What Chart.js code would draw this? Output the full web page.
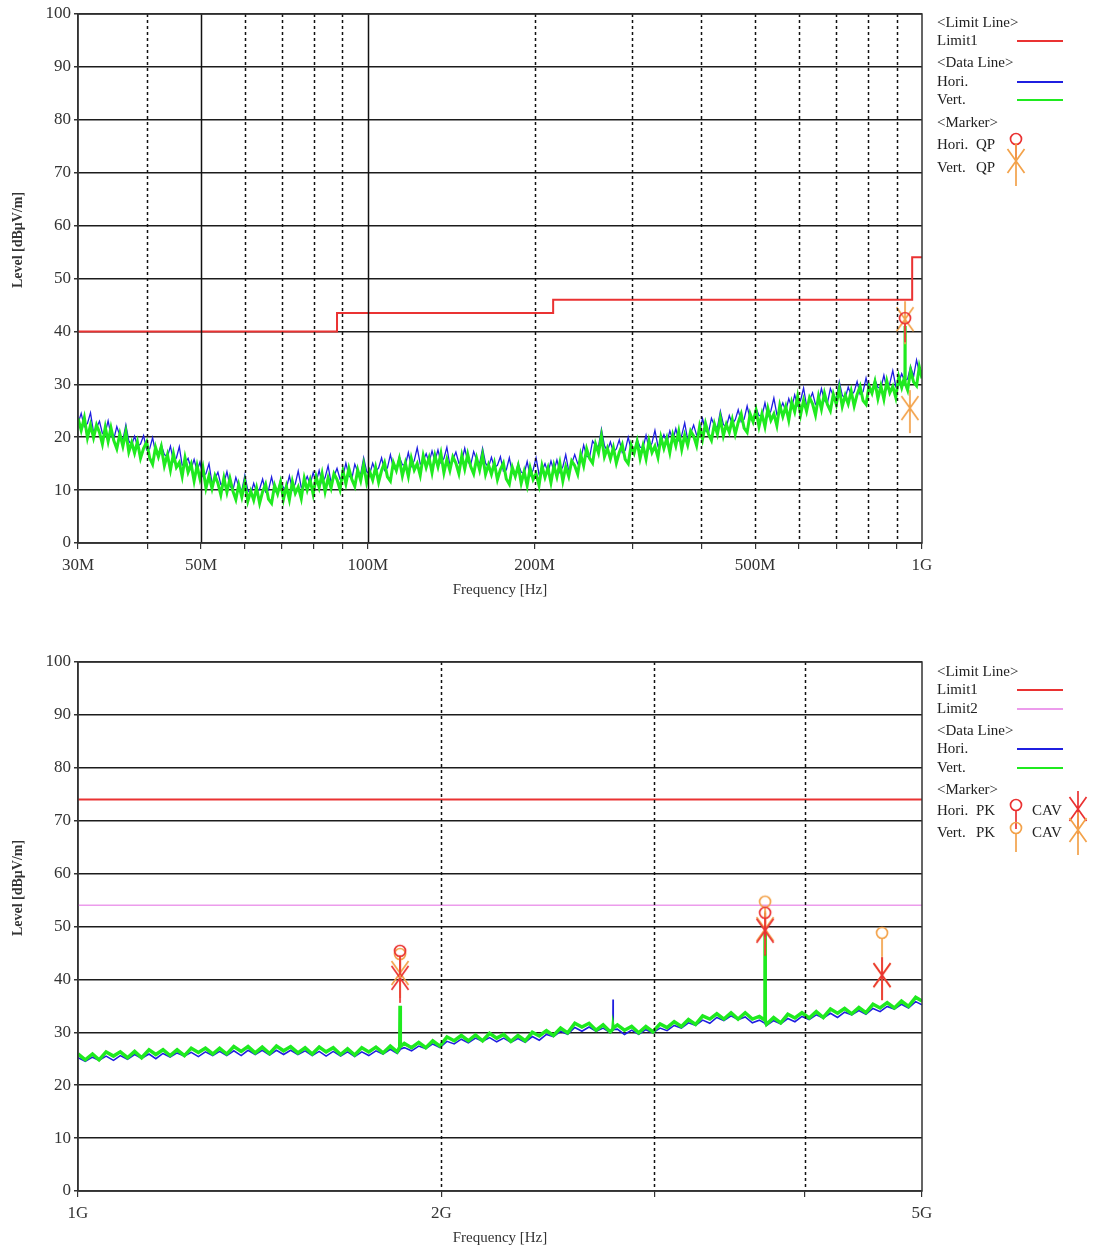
<!DOCTYPE html>
<html>
<head>
<meta charset="utf-8">
<script src="https://cdn.jsdelivr.net/npm/chart.js@4.4.1/dist/chart.umd.min.js"></script>
<style>
  html, body { margin: 0; padding: 0; background: #fff; }
  #wrap { position: relative; width: 1093px; height: 1249px; }
  .box { position: absolute; left: 0; width: 1093px; height: 601px; }
  .box canvas { display: block; }
  #boxLow { top: 0; }
  #boxHigh { top: 648px; }
</style>
</head>
<body>
<div id="wrap">
  <div class="box" id="boxLow"><canvas id="low" width="1093" height="601" style="width:1093px;height:601px"></canvas></div>
  <div class="box" id="boxHigh"><canvas id="high" width="1093" height="601" style="width:1093px;height:601px"></canvas></div>
</div>
<script>
// ---- 30 MHz - 1 GHz scan (frequency in MHz, level in dBuV/m) ----
var lowFreq = [
  30, 30.4, 30.8, 31.2, 31.6, 32, 32.4, 32.8, 33.2, 33.6, 34, 34.4, 34.8, 35.25, 35.7, 36.15, 36.6, 37.05, 37.5, 37.95,
  38.4, 38.9, 39.4, 39.9, 40.4, 40.9, 41.4, 41.9, 42.4, 42.95, 43.5, 44.05, 44.6, 45.15, 45.7, 46.25, 46.8, 47.4, 48, 48.6,
  49.2, 49.8, 50.4, 51.05, 51.7, 52.35, 53, 53.65, 54.3, 55, 55.7, 56.4, 57.1, 57.8, 58.5, 59.25, 60, 60.75, 61.5, 62.25,
  63, 63.8, 64.6, 65.4, 66.2, 67.05, 67.9, 68.75, 69.6, 70.45, 71.3, 72.2, 73.1, 74, 74.9, 75.85, 76.8, 77.75, 78.7, 79.7,
  80.7, 81.7, 82.7, 83.75, 84.8, 85.85, 86.9, 88, 89.1, 90.2, 91.3, 92.45, 93.6, 94.75, 95.9, 97.1, 98.3, 99.55, 100.8, 102.05,
  103.3, 104.6, 105.9, 107.2, 108.5, 109.85, 111.2, 112.6, 114, 115.45, 116.9, 118.35, 119.8, 121.3, 122.8, 124.35, 125.9, 127.45, 129, 130.6,
  132.2, 133.85, 135.5, 137.2, 138.9, 140.65, 142.4, 144.2, 146, 147.8, 149.6, 151.45, 153.3, 155.25, 157.2, 159.15, 161.1, 163.1, 165.1, 167.15,
  169.2, 171.35, 173.5, 175.65, 177.8, 180.05, 182.3, 184.55, 186.8, 189.15, 191.5, 193.9, 196.3, 198.75, 201.2, 203.7, 206.2, 208.8, 211.4, 214.05,
  216.7, 219.4, 222.1, 224.85, 227.6, 230.45, 233.3, 236.25, 239.2, 242.2, 245.2, 248.25, 251.3, 254.45, 257.6, 260.8, 264, 267.3, 270.6, 274,
  277.4, 280.85, 284.3, 287.85, 291.4, 295.05, 298.7, 302.45, 306.2, 310, 313.8, 317.75, 321.7, 325.7, 329.7, 333.85, 338, 342.2, 346.4, 350.75,
  355.1, 359.55, 364, 368.55, 373.1, 377.75, 382.4, 387.2, 392, 396.9, 401.8, 406.8, 411.8, 416.95, 422.1, 427.4, 432.7, 438.1, 443.5, 449.05,
  454.6, 460.3, 466, 471.8, 477.6, 483.6, 489.6, 495.7, 501.8, 508.05, 514.3, 520.75, 527.2, 533.8, 540.4, 547.15, 553.9, 560.85, 567.8, 574.9,
  582, 589.25, 596.5, 603.95, 611.4, 619.05, 626.7, 634.55, 642.4, 650.45, 658.5, 666.75, 675, 683.4, 691.8, 700.45, 709.1, 718, 726.9, 736,
  745.1, 754.4, 763.7, 773.25, 782.8, 792.6, 802.4, 812.4, 822.4, 832.7, 843, 853.55, 864.1, 874.9, 885.7, 896.75, 907.8, 919.15, 930.5,
  931.5, 932, 932.5,
  942, 953.8, 965.7, 977.6, 988.8, 1000
];
var lowVert = [
  23.6, 21.3, 23.7, 19.9, 22.3, 19.9, 22.3, 20.9, 18.7, 21.9, 19.2, 21.8, 19.4, 17.8, 20.6, 18.3, 21.0, 17.2, 19.0, 17.0,
  19.1, 16.0, 17.9, 19.1, 16.1, 14.9, 18.1, 16.3, 18.2, 14.6, 16.7, 13.8, 16.9, 14.3, 15.2, 12.6, 16.1, 13.4, 14.9, 11.7,
  14.6, 12.1, 14.3, 10.4, 12.7, 10.3, 12.7, 11.3, 9.1, 12.3, 9.6, 12.2, 9.8, 8.2, 11.0, 8.7, 11.5, 7.9, 9.8, 8.1,
  10.4, 7.5, 9.7, 11.1, 8.3, 7.5, 10.9, 9.3, 11.5, 8.3, 10.7, 8.2, 11.6, 9.4, 10.6, 8.4, 12.2, 10.0, 11.9, 9.2,
  12.5, 10.5, 13.1, 9.7, 12.3, 10.4, 13.1, 12.0, 10.1, 13.6, 11.2, 14.1, 12.0, 10.7, 13.8, 11.8, 14.8, 11.4, 13.5, 11.9,
  14.3, 11.5, 13.7, 15.2, 12.5, 11.7, 15.2, 13.7, 15.9, 12.7, 15.1, 12.6, 16.0, 13.8, 15.0, 12.8, 16.5, 14.3, 16.1, 13.3,
  16.5, 14.4, 16.9, 13.3, 15.8, 13.7, 16.3, 15.1, 13.1, 16.5, 14.0, 16.8, 14.5, 13.1, 16.0, 13.8, 16.6, 13.0, 14.8, 13.0,
  15.1, 12.0, 13.9, 15.1, 12.1, 11.1, 14.3, 12.6, 14.6, 11.3, 13.5, 10.9, 14.2, 12.0, 13.1, 10.9, 14.6, 12.4, 14.2, 11.4,
  14.6, 12.5, 15.1, 11.7, 14.4, 12.6, 15.5, 14.6, 13.0, 16.7, 14.6, 17.8, 16.0, 15.1, 18.7, 17.0, 20.2, 16.3, 17.9, 15.9,
  18.0, 15.1, 17.1, 18.6, 15.8, 15.0, 18.5, 17.0, 19.2, 16.0, 18.4, 15.9, 19.3, 17.1, 18.3, 16.2, 20.0, 17.9, 19.8, 17.1,
  20.4, 18.4, 21.1, 17.7, 20.4, 18.5, 21.2, 20.2, 18.4, 22.0, 19.6, 22.6, 20.6, 19.4, 22.5, 20.6, 23.6, 20.3, 22.4, 20.9,
  23.3, 20.6, 22.8, 24.4, 21.7, 20.9, 24.4, 22.9, 25.1, 22.0, 24.4, 22.0, 25.4, 23.2, 24.4, 22.2, 26.0, 23.9, 25.8, 23.2,
  26.6, 24.8, 27.7, 24.3, 27.0, 24.9, 27.5, 26.3, 24.2, 27.7, 25.3, 28.3, 26.2, 25.0, 28.1, 26.2, 29.2, 25.8, 27.9, 26.3,
  28.7, 25.9, 28.1, 29.6, 26.9, 26.2, 29.7, 28.3, 30.5, 27.3, 29.7, 27.2, 30.6, 28.4, 29.6, 27.5, 31.4, 29.4, 31.5,
  30.0, 41.0, 30.2,
  28.9, 32.6, 30.4, 29.7, 33.3, 31.1
];
var lowHori = [
  22.6, 24.5, 22.0, 22.6, 24.6, 20.9, 21.8, 23.0, 20.7, 20.9, 23.1, 20.4, 19.6, 22.0, 20.3, 19.5, 22.3, 19.3, 18.5, 20.2,
  18.3, 18.7, 20.3, 17.6, 17.8, 19.9, 17.1, 16.4, 18.6, 16.7, 16.3, 18.3, 15.4, 16.1, 18.2, 14.7, 15.1, 16.0, 14.0, 15.8,
  13.6, 15.3, 12.6, 13.1, 15.0, 11.3, 12.2, 13.4, 11.1, 11.3, 13.5, 10.8, 10.0, 12.4, 10.7, 9.9, 12.8, 10.0, 9.3, 11.3,
  9.6, 10.2, 12.1, 9.6, 10.0, 12.5, 9.9, 9.4, 11.9, 10.4, 10.3, 12.7, 10.1, 11.2, 13.6, 10.5, 11.2, 12.6, 11.0, 13.3,
  11.5, 13.7, 11.4, 12.4, 14.6, 11.4, 12.6, 14.1, 12.1, 12.6, 15.1, 12.7, 12.2, 14.9, 13.5, 13.0, 16.1, 13.5, 13.0, 15.1,
  13.5, 14.2, 16.1, 13.7, 14.2, 16.7, 14.2, 13.8, 16.3, 14.8, 14.7, 17.1, 14.5, 15.6, 18.0, 14.9, 15.5, 16.9, 15.2, 17.4,
  15.5, 17.6, 15.2, 16.0, 18.1, 14.7, 15.8, 17.2, 15.1, 15.5, 17.9, 15.4, 14.7, 17.3, 15.7, 15.0, 17.9, 15.1, 14.3, 16.2,
  14.3, 14.7, 16.3, 13.6, 13.8, 16.1, 13.3, 12.7, 15.0, 13.4, 13.1, 15.4, 12.7, 13.8, 16.1, 13.0, 13.6, 15.0, 13.3, 15.5,
  13.6, 15.7, 13.4, 14.4, 16.7, 13.6, 15.0, 16.7, 15.0, 15.7, 18.5, 16.4, 16.2, 19.3, 18.4, 18.2, 21.5, 18.4, 17.4, 19.1,
  17.2, 17.8, 19.5, 17.1, 17.5, 20.0, 17.5, 17.1, 19.6, 18.1, 18.0, 20.4, 17.8, 18.9, 21.3, 18.3, 19.0, 20.5, 18.9, 21.2,
  19.4, 21.6, 19.4, 20.4, 22.7, 19.5, 20.7, 22.3, 20.4, 21.0, 23.5, 21.2, 20.8, 23.6, 22.2, 21.8, 24.9, 22.4, 21.9, 24.1,
  22.5, 23.3, 25.2, 22.9, 23.4, 25.9, 23.4, 23.0, 25.5, 24.1, 24.0, 26.5, 23.9, 25.0, 27.4, 24.3, 25.0, 26.5, 24.9, 27.3,
  25.6, 28.0, 26.0, 27.0, 29.3, 25.9, 27.0, 28.4, 26.2, 26.7, 29.2, 26.9, 26.4, 29.2, 27.8, 27.4, 30.5, 27.9, 27.4, 29.5,
  27.9, 28.6, 30.5, 28.1, 28.6, 31.2, 28.7, 28.4, 30.9, 29.4, 29.3, 31.7, 29.1, 30.2, 32.6, 29.6, 30.4, 32.0, 30.6,
  30.6, 30.8, 30.8,
  31.0, 33.4, 31.5, 34.6, 32.3, 32.6
];
var lowLimitFreq = [30, 88, 88, 216, 216, 960, 960, 1000];
var lowLimit1 = [40, 40, 43.5, 43.5, 46, 46, 54, 54];
var lowHoriQPFreq = [932];
var lowHoriQPLevel = [42.5];
var lowVertQPFreq = [932, 951];
var lowVertQPLevel = [42.3, 25.5];
var lowTicks = [30, 40, 50, 60, 70, 80, 90, 100, 200, 300, 400, 500, 600, 700, 800, 900, 1000];
var lowTickText = ['30M', '', '50M', '', '', '', '', '100M', '200M', '', '', '500M', '', '', '', '', '1G'];
var lowSolidGrid = [50, 100];

// ---- 1 GHz - 5 GHz scan (frequency in GHz) ----
var highFreq = [
  1.000, 1.014, 1.028, 1.041, 1.055, 1.070, 1.084, 1.099, 1.114, 1.129,
  1.145, 1.160, 1.176, 1.192, 1.208, 1.225, 1.241, 1.258, 1.275, 1.293,
  1.310, 1.328, 1.346, 1.365, 1.383, 1.402, 1.421, 1.441, 1.460, 1.480,
  1.500, 1.521, 1.542, 1.563, 1.584, 1.605, 1.627, 1.650, 1.672, 1.695,
  1.718, 1.741, 1.765, 1.789, 1.814, 1.838,
  1.847, 1.848, 1.849,
  1.863, 1.889, 1.915, 1.941,
  1.967, 1.994, 2.021, 2.049, 2.077, 2.105, 2.134, 2.163, 2.192, 2.222,
  2.252, 2.283, 2.314, 2.346, 2.378, 2.410, 2.443, 2.476, 2.510, 2.544,
  2.579, 2.614, 2.650, 2.686, 2.722, 2.759,
  2.773, 2.774, 2.775,
  2.797, 2.835, 2.874, 2.913,
  2.953, 2.993, 3.034, 3.075, 3.117, 3.160, 3.203, 3.247, 3.291, 3.336,
  3.381, 3.427, 3.474, 3.521, 3.569, 3.618, 3.667,
  3.706, 3.707, 3.708,
  3.717, 3.768, 3.819,
  3.871, 3.924, 3.977, 4.032, 4.087, 4.142, 4.199, 4.256, 4.314, 4.373,
  4.433, 4.493, 4.554, 4.616, 4.679, 4.743, 4.808, 4.873, 4.940, 5.000
];
var highVert = [
  25.9, 24.8, 25.9, 24.8, 26.3, 25.5, 26.3, 25.2, 26.4, 25.2,
  26.7, 25.8, 26.7, 25.6, 26.7, 25.6, 27.0, 26.2, 27.0, 25.9,
  27.0, 25.9, 27.3, 26.4, 27.3, 26.1, 27.2, 26.0, 27.4, 26.5,
  27.3, 26.1, 27.1, 25.9, 27.2, 26.3, 27.1, 25.8, 26.9, 25.7,
  27.1, 26.3, 27.2, 26.1, 27.4, 26.3,
  27.2, 35.0, 27.3,
  27.9, 27.1, 28.1, 27.1,
  28.4, 27.4, 29.1, 28.4, 29.4, 28.4, 29.5, 28.4, 29.8, 28.9,
  29.6, 28.3, 29.4, 28.4, 30.0, 29.3, 30.3, 29.4, 30.8, 29.9,
  31.7, 31.0, 31.7, 30.4, 31.4, 30.1,
  30.6, 31.0, 30.8,
  31.4, 30.4, 31.1, 29.9,
  31.1, 30.1, 31.6, 30.9, 32.0, 31.1, 32.4, 31.5, 33.1, 32.5,
  33.5, 32.5, 33.7, 32.5, 33.7, 32.5, 33.0,
  32.3, 49.0, 32.3,
  31.5, 32.8, 31.8,
  33.4, 32.7, 33.7, 32.7, 33.9, 32.8, 34.4, 33.6, 34.5, 33.5,
  34.7, 33.7, 35.3, 34.6, 35.6, 34.6, 35.9, 34.9, 36.6, 35.9
];
var highHori = [
  25.2, 24.5, 25.3, 24.7, 25.5, 24.7, 25.6, 24.9, 25.8, 25.1,
  25.9, 25.0, 26.0, 25.3, 26.1, 25.5, 26.2, 25.4, 26.3, 25.6,
  26.4, 25.6, 26.5, 25.6, 26.6, 25.8, 26.6, 25.7, 26.6, 25.8,
  26.6, 25.8, 26.5, 25.6, 26.4, 25.5, 26.4, 25.5, 26.3, 25.4,
  26.3, 25.6, 26.5, 25.9, 26.8, 26.0,
  26.6, 26.8, 26.8,
  27.1, 26.5, 27.4, 26.9,
  27.8, 27.1, 28.3, 27.8, 28.7, 28.0, 28.9, 28.3, 29.0, 28.2,
  28.9, 28.1, 28.8, 28.1, 29.2, 28.5, 29.6, 29.2, 30.2, 29.6,
  30.9, 30.2, 31.0, 30.2, 30.8, 29.9,
  30.4, 36.2, 30.5,
  30.6, 29.6, 30.4, 29.6,
  30.5, 29.9, 30.8, 30.3, 31.3, 30.8, 31.8, 31.3, 32.3, 31.7,
  32.8, 32.2, 33.1, 32.4, 32.9, 31.8, 32.3,
  31.7, 31.6, 31.6,
  31.3, 32.2, 31.6,
  32.6, 32.0, 33.0, 32.4, 33.3, 32.7, 33.6, 32.8, 33.8, 33.3,
  34.1, 33.4, 34.5, 33.9, 34.9, 34.4, 35.3, 34.6, 35.8, 35.2
];
var highLimitFreq = [1, 5];
var highLimit1 = [74, 74];
var highLimit2 = [54, 54];
var highHoriPKFreq = [1.848, 3.707];
var highHoriPKLevel = [45.4, 52.6];
var highVertPKFreq = [1.848, 3.707, 4.633];
var highVertPKLevel = [44.8, 54.7, 48.8];
var highHoriCAVFreq = [1.848, 3.707, 4.633];
var highHoriCAVLevel = [40.3, 49.2, 40.8];
var highVertCAVFreq = [1.848, 3.707, 4.633];
var highVertCAVLevel = [41.2, 49.5, 40.8];
var highTicks = [1, 2, 3, 4, 5];
var highTickText = ['1G', '2G', '', '', '5G'];
var highSolidGrid = [];

var RED = '#ea3232';
var ORANGE = '#f3a24a';
var GREEN = '#1fea1f';
var BLUE = '#1f1fe0';
var VIOLET = '#ec9cec';

Chart.defaults.font.family = '"Liberation Serif", "Times New Roman", serif';

// marker glyphs: circle with a tail for PK/QP, starred cross for CAV
function circleMark(color) {
    var c = document.createElement('canvas');
    c.width = 16; c.height = 56;
    var g = c.getContext('2d');
    g.strokeStyle = color; g.lineWidth = 1.7;
    g.beginPath(); g.arc(8, 28, 5.5, 0, Math.PI * 2); g.stroke();
    g.beginPath(); g.moveTo(8, 33.5); g.lineTo(8, 52); g.stroke();
    return c;
}
function crossMark(color) {
    var c = document.createElement('canvas');
    c.width = 20; c.height = 52;
    var g = c.getContext('2d');
    g.strokeStyle = color; g.lineWidth = 1.7;
    g.beginPath();
    g.moveTo(1.5, 14); g.lineTo(18.5, 38);
    g.moveTo(18.5, 14); g.lineTo(1.5, 38);
    g.moveTo(10, 8); g.lineTo(10, 51);
    g.stroke();
    return c;
}
var symRedCircle = circleMark(RED);
var symOrangeCircle = circleMark(ORANGE);
var symRedCross = crossMark(RED);
var symOrangeCross = crossMark(ORANGE);

function pts(xs, ys) {
    return xs.map(function (x, i) { return { x: x, y: ys[i] }; });
}
function trace(label, xs, ys, color, width) {
    return { label: label, data: pts(xs, ys), showLine: true, borderColor: color,
             borderWidth: width, pointRadius: 0, tension: 0, fill: false };
}
function marks(label, xs, ys, sym) {
    return { label: label, data: pts(xs, ys), showLine: false, pointStyle: sym,
             pointRadius: 6, borderWidth: 0 };
}

function gridPlugin(lines, solid) {
    return {
        id: 'vgrid',
        afterDatasetsDraw: function (chart) {
            var ctx = chart.ctx, a = chart.chartArea, xs = chart.scales.x;
            ctx.save();
            ctx.strokeStyle = '#111';
            ctx.lineWidth = 1.5;
            lines.forEach(function (f) {
                var px = Math.round(xs.getPixelForValue(f)) + 0.5;
                if (px <= a.left + 1 || px >= a.right - 1) return;
                ctx.setLineDash(solid.indexOf(f) >= 0 ? [] : [3, 3]);
                ctx.beginPath(); ctx.moveTo(px, a.top); ctx.lineTo(px, a.bottom); ctx.stroke();
            });
            ctx.setLineDash([]);
            ctx.strokeStyle = '#333';
            ctx.strokeRect(a.left, a.top, a.right - a.left, a.bottom - a.top);
            ctx.restore();
        }
    };
}

// side legend plus the rotated y title (sits above the plot centre in the original)
function legendPlugin(rows) {
    return {
        id: 'sideLegend',
        afterDraw: function (chart) {
            var ctx = chart.ctx;
            ctx.save();
            ctx.font = '15px "Liberation Serif"';
            ctx.fillStyle = '#222';
            ctx.textBaseline = 'middle';
            rows.forEach(function (r) {
                if (r.text) ctx.fillText(r.text, r.x || 937, r.y);
                if (r.line) {
                    ctx.strokeStyle = r.line; ctx.lineWidth = 2;
                    ctx.beginPath(); ctx.moveTo(1017, r.y); ctx.lineTo(1063, r.y); ctx.stroke();
                }
                if (r.sym) ctx.drawImage(r.sym, r.sx - r.sym.width / 2, r.sy - r.sym.height / 2);
            });
            ctx.translate(18, 240);
            ctx.rotate(-Math.PI / 2);
            ctx.textAlign = 'center';
            ctx.fillStyle = '#333';
            ctx.font = 'bold 14px "Liberation Serif"';
            ctx.fillText('Level [dB\u03bcV/m]', 0, 0);
            ctx.restore();
        }
    };
}

function makeChart(id, cfg) {
    return new Chart(document.getElementById(id), {
        type: 'scatter',
        data: { datasets: cfg.datasets },
        options: {
            responsive: false,
            animation: false,
            events: [],
            layout: { padding: { top: 14, right: 171, left: 0, bottom: 0 } },
            plugins: { legend: { display: false }, tooltip: { enabled: false } },
            scales: {
                x: {
                    type: 'logarithmic', min: cfg.min, max: cfg.max,
                    afterFit: function (s) { s.height = 58; },
                    afterBuildTicks: function (s) {
                        s.ticks = cfg.ticks.map(function (v) { return { value: v }; });
                    },
                    ticks: {
                        autoSkip: false, maxRotation: 0, color: '#333', padding: 6,
                        font: { size: 17 },
                        callback: function (v) {
                            var i = cfg.ticks.indexOf(v);
                            return i >= 0 ? cfg.tickText[i] : '';
                        }
                    },
                    grid: { drawOnChartArea: false, tickLength: 6, color: '#333', lineWidth: 1.2 },
                    border: { color: '#333', width: 1.5 },
                    title: { display: true, text: 'Frequency [Hz]', color: '#333',
                             font: { size: 15 }, padding: { top: 2, bottom: 2 } }
                },
                y: {
                    min: 0, max: 100, z: 1,
                    afterFit: function (s) { s.width = 78; },
                    ticks: { stepSize: 10, color: '#333', padding: 3, font: { size: 17 } },
                    grid: { color: '#1c1c1c', lineWidth: 1.5, tickLength: 4, tickColor: '#333' },
                    border: { color: '#333', width: 1.5 },
                    title: { display: false }
                }
            }
        },
        plugins: [gridPlugin(cfg.grid, cfg.solid), legendPlugin(cfg.legend)]
    });
}

makeChart('low', {
    min: 30, max: 1000,
    ticks: lowTicks, tickText: lowTickText,
    grid: lowTicks, solid: lowSolidGrid,
    datasets: [
        marks('Hori. QP', lowHoriQPFreq, lowHoriQPLevel, symRedCircle),
        marks('Vert. QP', lowVertQPFreq, lowVertQPLevel, symOrangeCross),
        trace('Vert.', lowFreq, lowVert, GREEN, 3),
        trace('Hori.', lowFreq, lowHori, BLUE, 1.3),
        trace('Limit1', lowLimitFreq, lowLimit1, RED, 2)
    ],
    legend: [
        { text: '<Limit Line>', y: 23 },
        { text: 'Limit1', y: 41, line: RED },
        { text: '<Data Line>', y: 63 },
        { text: 'Hori.', y: 82, line: BLUE },
        { text: 'Vert.', y: 100, line: GREEN },
        { text: '<Marker>', y: 123 },
        { text: 'Hori.', y: 145 }, { text: 'QP', x: 976, y: 145, sym: symRedCircle, sx: 1016, sy: 139 },
        { text: 'Vert.', y: 168 }, { text: 'QP', x: 976, y: 168, sym: symOrangeCross, sx: 1016, sy: 161 }
    ]
});

makeChart('high', {
    min: 1, max: 5,
    ticks: highTicks, tickText: highTickText,
    grid: highTicks, solid: highSolidGrid,
    datasets: [
        marks('Hori. PK', highHoriPKFreq, highHoriPKLevel, symRedCircle),
        marks('Vert. PK', highVertPKFreq, highVertPKLevel, symOrangeCircle),
        marks('Hori. CAV', highHoriCAVFreq, highHoriCAVLevel, symRedCross),
        marks('Vert. CAV', highVertCAVFreq, highVertCAVLevel, symOrangeCross),
        trace('Vert.', highFreq, highVert, GREEN, 3.5),
        trace('Hori.', highFreq, highHori, BLUE, 1.6),
        trace('Limit1', highLimitFreq, highLimit1, RED, 2),
        trace('Limit2', highLimitFreq, highLimit2, VIOLET, 1.5)
    ],
    legend: [
        { text: '<Limit Line>', y: 24 },
        { text: 'Limit1', y: 42, line: RED },
        { text: 'Limit2', y: 61, line: VIOLET },
        { text: '<Data Line>', y: 83 },
        { text: 'Hori.', y: 101, line: BLUE },
        { text: 'Vert.', y: 120, line: GREEN },
        { text: '<Marker>', y: 142 },
        { text: 'Hori.', y: 163 }, { text: 'PK', x: 976, y: 163, sym: symRedCircle, sx: 1016, sy: 157 },
        { text: 'CAV', x: 1032, y: 163, sym: symRedCross, sx: 1078, sy: 161 },
        { text: 'Vert.', y: 185 }, { text: 'PK', x: 976, y: 185, sym: symOrangeCircle, sx: 1016, sy: 180 },
        { text: 'CAV', x: 1032, y: 185, sym: symOrangeCross, sx: 1078, sy: 182 }
    ]
});
</script>
</body>
</html>
